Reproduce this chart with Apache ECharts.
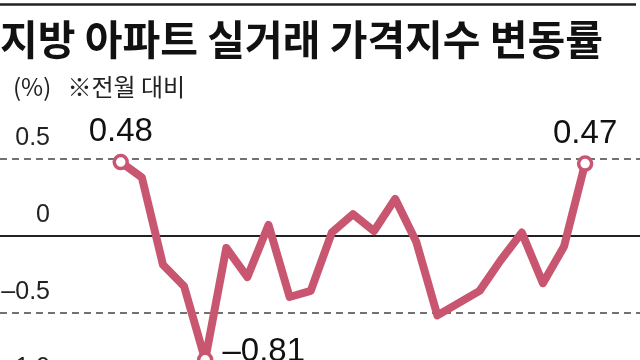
<!DOCTYPE html>
<html><head><meta charset="utf-8">
<script src="https://cdn.jsdelivr.net/npm/echarts@6/dist/echarts.min.js"></script>
<style>html,body{margin:0;padding:0;background:#fff}#c{width:640px;height:360px}</style>
</head><body><div id="c"></div>
<script>
const titleText = '지방 아파트 실거래 가격지수 변동률';
const subtitleText = '(%)   ※전월 대비';
const values = [0.48, 0.38, -0.19, -0.33, -0.81, -0.08, -0.27, 0.07, -0.40, -0.36, 0.02, 0.14, 0.03, 0.24, -0.04, -0.52, -0.44, -0.36, -0.16, 0.02, -0.31, -0.07, 0.47];
const labeledPoints = [0, 4, 22];
const yTicks = [0.5, 0, -0.5, -1.0];

const NUM_FONT = '"Liberation Sans", Arial, sans-serif';
const KR_FONT = '"Noto Sans CJK KR", sans-serif';
const LINE_COLOR = '#c95670';

function fmt(v, d) { if (v === 0) return '0'; const s = Math.abs(v).toFixed(d); return v < 0 ? '\u2013' + s : s; }

const seriesData = values.map((v, i) => {
  const lab = labeledPoints.includes(i);
  const isMin = v === Math.min(...values);
  return {
    value: [i, v],
    symbolSize: lab ? 13 : 0,
    label: lab ? {
      show: true,
      position: isMin ? 'right' : 'top',
      distance: isMin ? 9 : 5,
      offset: isMin ? [0, -8] : [0, 0],
      formatter: () => fmt(v, 2),
      fontFamily: NUM_FONT,
      fontSize: 33,
      color: '#111'
    } : { show: false }
  };
});

const chart = echarts.init(document.getElementById('c'), null, { renderer: 'canvas' });
chart.setOption({
  animation: false,
  backgroundColor: '#fff',
  graphic: [{ type: 'line', shape: { x1: 0, y1: 4.5, x2: 636, y2: 4.5 }, style: { stroke: '#222', lineWidth: 2.5 } }],
  title: [
    { text: titleText, left: 0, top: 15, padding: 0, textStyle: { fontFamily: KR_FONT, fontWeight: 'bold', fontSize: 41, color: '#111', lineHeight: 48 } },
    { text: subtitleText, left: 13, top: 73, padding: 0, textStyle: { fontFamily: KR_FONT, fontWeight: 'normal', fontSize: 24, color: '#222', lineHeight: 28 } }
  ],
  grid: { left: 0, right: 0, top: 159, height: 230, containLabel: false, outerBoundsMode: 'none' },
  xAxis: {
    type: 'value', min: -5.72, max: 24.6,
    axisLine: { show: true, onZero: true, lineStyle: { color: '#222', width: 2 } },
    axisTick: { show: false }, axisLabel: { show: false }, splitLine: { show: false }
  },
  yAxis: {
    type: 'value', min: yTicks[yTicks.length - 1], max: yTicks[0], interval: 0.5,
    axisLine: { show: false }, axisTick: { show: false },
    axisLabel: {
      inside: true, align: 'right', margin: 50, verticalAlign: 'bottom', padding: [0, 0, 8, 0],
      fontFamily: NUM_FONT, fontSize: 25, color: '#222',
      formatter: v => fmt(v, v === 0 ? 0 : 1)
    },
    splitLine: { show: true, lineStyle: { type: [7, 5], width: 1.5, color: ['#444', '#444', 'rgba(0,0,0,0)', '#444'] } }
  },
  series: [{
    type: 'line',
    data: seriesData,
    symbol: 'circle',
    showAllSymbol: true,
    lineStyle: { color: LINE_COLOR, width: 8, cap: 'round', join: 'round' },
    itemStyle: { color: '#fff', borderColor: LINE_COLOR, borderWidth: 3.5 },
    z: 5
  }]
});
</script></body></html>
